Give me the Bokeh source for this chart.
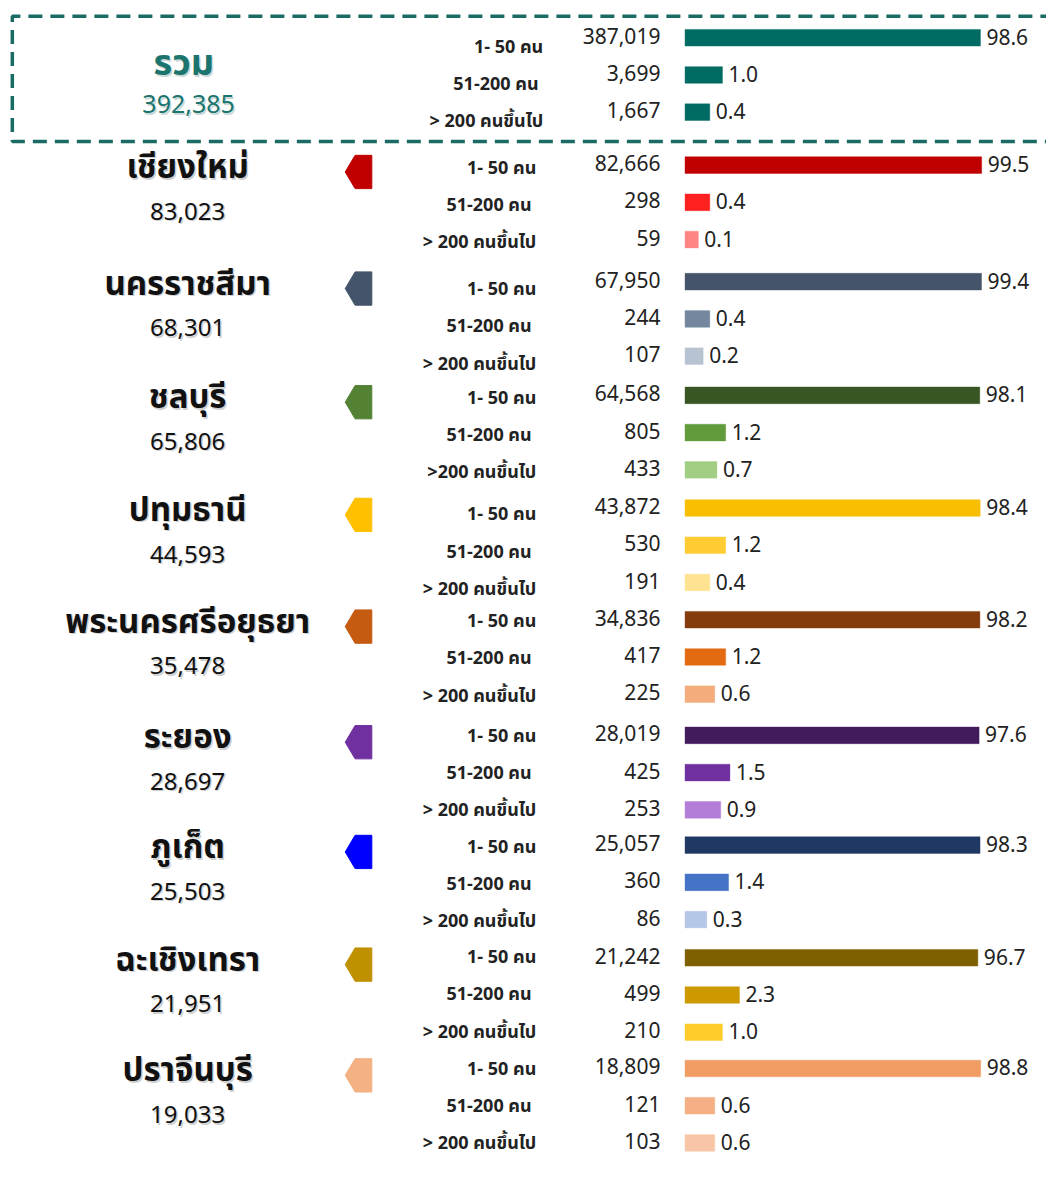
from bokeh.plotting import figure
from bokeh.models import Range1d, ColumnDataSource
from bokeh.core.properties import value
from bokeh.embed import file_html
from bokeh.resources import INLINE

# ---------------- data ----------------
groups = ["รวม", "เชียงใหม่", "นครราชสีมา", "ชลบุรี", "ปทุมธานี",
          "พระนครศรีอยุธยา", "ระยอง", "ภูเก็ต", "ฉะเชิงเทรา", "ปราจีนบุรี"]
group_totals = [392385, 83023, 68301, 65806, 44593, 35478, 28697, 25503, 21951, 19033]

label_1_50 = "1- 50 คน"
label_51_200 = "51-200  คน"
label_200p = ["> 200 คนขึ้นไป", "> 200 คนขึ้นไป", "> 200 คนขึ้นไป", ">200 คนขึ้นไป",
              "> 200 คนขึ้นไป", "> 200 คนขึ้นไป", "> 200 คนขึ้นไป", "> 200 คนขึ้นไป",
              "> 200 คนขึ้นไป", "> 200 คนขึ้นไป"]

counts_1_50 = [387019, 82666, 67950, 64568, 43872, 34836, 28019, 25057, 21242, 18809]
counts_51_200 = [3699, 298, 244, 805, 530, 417, 425, 360, 499, 121]
counts_200p = [1667, 59, 107, 433, 191, 225, 253, 86, 210, 103]

pct_1_50 = [98.6, 99.5, 99.4, 98.1, 98.4, 98.2, 97.6, 98.3, 96.7, 98.8]
pct_51_200 = [1.0, 0.4, 0.4, 1.2, 1.2, 1.2, 1.5, 1.4, 2.3, 0.6]
pct_200p = [0.4, 0.1, 0.2, 0.7, 0.4, 0.6, 0.9, 0.3, 1.0, 0.6]

# ---------------- styles ----------------
colors_1_50 = ["#006B63", "#C00000", "#44546A", "#375623", "#F9BE00",
               "#843C0C", "#421B5C", "#1F3864", "#7F6000", "#F09C62"]
colors_51_200 = ["#006B63", "#FF2020", "#74879F", "#629B3C", "#FFCC33",
                 "#E36A10", "#7030A0", "#4472C4", "#CC9900", "#F4B084"]
colors_200p = ["#006B63", "#FF8585", "#B8C3D2", "#A2CE84", "#FFE390",
               "#F4AC7C", "#B27ED8", "#B4C7E7", "#FFCC29", "#F8C6A6"]
arrow_colors = [None, "#C00000", "#44546A", "#548235", "#FFC000",
                "#C55A11", "#7030A0", "#0000FF", "#BF9000", "#F4B183"]
TEAL = "#1B756E"

# ---------------- layout (positions in the original sheet's pixels) ----------------
W, H = 1046, 1164
SHEET_W = 1062
SHEET_TOP, SHEET_BOTTOM = 2, 1190
group_y = [40, 170, 289, 405, 520, 634, 752, 864, 979, 1092]
label_dy = [10, 3, 8, 3, 7, 2, 1, 2, 0, 1]
ROW_STEP = 38
BAR_X0 = 695
PX_PER_UNIT = 38.0       # display scale for pct ** 0.45
BAR_POWER = 0.45
COUNT_RIGHT = 670
LABEL_RIGHT = [551] + [544] * 9
NAME_X = 190
ARROW_X = (350, 360, 377)

FONT = "Tahoma, 'Noto Sans Thai', 'Noto Sans', 'DejaVu Sans', sans-serif"

p = figure(width=W, height=H, output_backend="svg", toolbar_location=None,
           x_range=Range1d(0, SHEET_W), y_range=Range1d(SHEET_BOTTOM, SHEET_TOP),
           min_border=0, outline_line_color=None, background_fill_color="white")
p.axis.visible = False
p.xgrid.visible = False
p.ygrid.visible = False
p.extra_x_ranges = {"bar": Range1d(start=(0 - BAR_X0) / PX_PER_UNIT,
                                   end=(SHEET_W - BAR_X0) / PX_PER_UNIT)}

rows = dict(y=[], ly=[], length=[], color=[], pct=[], count=[], label=[], label_right=[])
for i in range(len(groups)):
    per = [(label_1_50, counts_1_50[i], pct_1_50[i], colors_1_50[i]),
           (label_51_200, counts_51_200[i], pct_51_200[i], colors_51_200[i]),
           (label_200p[i], counts_200p[i], pct_200p[i], colors_200p[i])]
    for r, (lab, cnt, pc, col) in enumerate(per):
        yy = group_y[i] + r * ROW_STEP
        rows["y"].append(yy)
        rows["ly"].append(yy + label_dy[i])
        rows["length"].append(pc ** BAR_POWER)
        rows["color"].append(col)
        rows["pct"].append(f"{pc:.1f}")
        rows["count"].append(f"{cnt:,}")
        rows["label"].append(lab)
        rows["label_right"].append(LABEL_RIGHT[i])
src = ColumnDataSource(rows)

# bars
p.hbar(y="y", left=0, right="length", height=17, fill_color="color",
       line_color="color", line_alpha=0.4, source=src, x_range_name="bar")
# percent labels
p.text(x="length", y="y", text="pct", x_offset=6, y_offset=-1, source=src, x_range_name="bar",
       text_font=value(FONT), text_font_size="21px", text_color="#222222",
       text_baseline="middle", text_align="left")
# counts
p.text(x=COUNT_RIGHT, y="y", text="count", source=src, y_offset=-2,
       text_font=value(FONT), text_font_size="21px", text_color="#222222",
       text_baseline="middle", text_align="right")
# size-class labels
p.text(x="label_right", y="ly", text="label", source=src,
       text_font=value(FONT), text_font_size="18px", text_font_style="bold",
       text_color="#222222", text_baseline="middle", text_align="right")

# group names and totals
name_src = ColumnDataSource(dict(
    x=[NAME_X] * 9, y=[g + 3 for g in group_y[1:]], name=groups[1:],
    ny=[g + 47 for g in group_y[1:]], total=[f"{t:,}" for t in group_totals[1:]]))
for dx, col, alpha in [(1.5, "#777777", 0.35), (0, "#111111", 1.0)]:
    p.text(x="x", y="y", text="name", source=name_src, x_offset=dx, y_offset=dx,
           text_font=value(FONT), text_font_size="33px", text_font_style="bold",
           text_color=col, text_alpha=alpha, text_align="center", text_baseline="middle")
    p.text(x="x", y="ny", text="total", source=name_src, x_offset=dx, y_offset=dx,
           text_font=value(FONT), text_font_size="24px",
           text_color=col, text_alpha=alpha, text_align="center", text_baseline="middle")

tot_src = ColumnDataSource(dict(x=[186], y=[67], name=[groups[0]],
                                tx=[191], ty=[108], total=[f"{group_totals[0]:,}"]))
for dx, col, alpha in [(1.5, "#6A8F8B", 0.35), (0, TEAL, 1.0)]:
    p.text(x="x", y="y", text="name", source=tot_src, x_offset=dx, y_offset=dx,
           text_font=value(FONT), text_font_size="36px", text_font_style="bold",
           text_color=col, text_alpha=alpha, text_align="center", text_baseline="middle")
    p.text(x="tx", y="ty", text="total", source=tot_src, x_offset=dx, y_offset=dx,
           text_font=value(FONT), text_font_size="25px",
           text_color=col, text_alpha=alpha, text_align="center", text_baseline="middle")

# pointer shapes
xs, ys, cs = [], [], []
for i in range(1, len(groups)):
    c = group_y[i] + 7
    a, b, e = ARROW_X
    xs.append([a, b, e, e, b])
    ys.append([c, c - 17, c - 17, c + 17, c + 17])
    cs.append(arrow_colors[i])
p.patches(xs=xs, ys=ys, fill_color=cs, line_color=cs)

# dashed box around the total block
p.line(x=[1070, 12, 12, 1070], y=[18, 18, 146, 146], line_color="#1A6B64",
       line_width=3.5, line_dash="14 8")

open("out.html", "w").write(file_html(p, INLINE))
